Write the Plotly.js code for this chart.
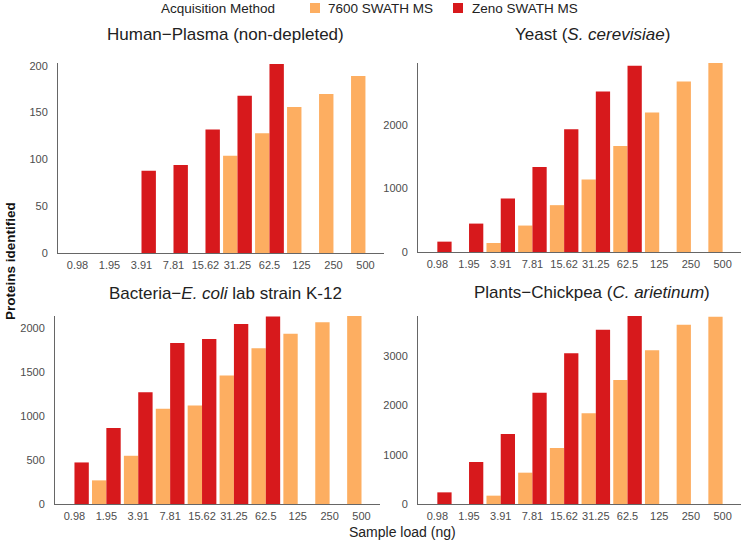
<!DOCTYPE html>
<html>
<head>
<meta charset="utf-8">
<script src="https://cdn.plot.ly/plotly-3.0.1.min.js"></script>
<style>
  html, body { margin: 0; padding: 0; background: #fff; }
  #chart { width: 742px; height: 540px; }
</style>
</head>
<body>
<div id="chart"></div>
<script>
"use strict";

// Sample loads (ng), shared by every panel
var sampleLoad = ["0.98", "1.95", "3.91", "7.81", "15.62", "31.25", "62.5", "125", "250", "500"]

// Proteins identified
var plasma7600 = [null, null, null, null, null, 104, 128, 156, 170, 189]
var plasmaZeno = [null, null, 88, 94, 132, 168, 202, null, null, null]

var yeast7600 = [null, null, 142, 416, 737, 1142, 1668, 2195, 2684, 2974]
var yeastZeno = [163, 447, 842, 1337, 1932, 2526, 2932, null, null, null]

var ecoli7600 = [null, 269, 549, 1083, 1121, 1462, 1773, 1939, 2068, 2140]
var ecoliZeno = [473, 864, 1273, 1833, 1879, 2049, 2133, null, null, null]

var chickpea7600 = [null, null, 169, 635, 1135, 1838, 2514, 3115, 3635, 3797]
var chickpeaZeno = [236, 851, 1419, 2257, 3054, 3534, 3811, null, null, null]

var methodNames = ["7600 SWATH MS", "Zeno SWATH MS"]
var panelTitles = [
  "Human\u2212Plasma (non-depleted)",
  "Yeast (<i>S. cerevisiae</i>)",
  "Bacteria\u2212<i>E. coli</i> lab strain K-12",
  "Plants\u2212Chickpea (<i>C. arietinum</i>)"
]

var orange = "#fdae61"
var red = "#d7191c"
var font = "Liberation Sans, Arial, sans-serif"
var W = 742, H = 540

// px helpers (margins are zero, so paper == pixels)
function px(x){ return x / W }
function py(y){ return 1 - y / H }

var panels = [
  { s7600: plasma7600, zeno: plasmaZeno, top: 63, bottom: 253, left: 58, right: 384, ymax: 203, dtick: 50, tx: 226, ty: 34 },
  { s7600: yeast7600, zeno: yeastZeno, top: 63, bottom: 252, left: 418, right: 741, ymax: 2974, dtick: 1000, tx: 592, ty: 34 },
  { s7600: ecoli7600, zeno: ecoliZeno, top: 316, bottom: 504, left: 55, right: 380, ymax: 2140, dtick: 500, tx: 226, ty: 293 },
  { s7600: chickpea7600, zeno: chickpeaZeno, top: 316, bottom: 504, left: 418, right: 741, ymax: 3811, dtick: 1000, tx: 592, ty: 292 }
]

var traces = []
var layout = {
  width: W, height: H,
  margin: { l: 0, r: 0, t: 0, b: 0 },
  paper_bgcolor: "#fff",
  plot_bgcolor: "rgba(0,0,0,0)",
  font: { family: font, color: "#222" },
  barmode: "group",
  bargap: 0.1,
  bargroupgap: 0,
  showlegend: false,
  annotations: [],
  shapes: []
}

panels.forEach(function(p, i){
  var n = i + 1
  var xa = n == 1 ? "x" : "x" + n
  var ya = n == 1 ? "y" : "y" + n
  traces.push({
    type: "bar", x: sampleLoad, y: p.s7600, name: methodNames[0],
    marker: { color: orange, line: { width: 0 } },
    xaxis: xa, yaxis: ya
  })
  traces.push({
    type: "bar", x: sampleLoad, y: p.zeno, name: methodNames[1],
    marker: { color: red, line: { width: 0 } },
    xaxis: xa, yaxis: ya
  })

  var xKey = n == 1 ? "xaxis" : "xaxis" + n
  var yKey = n == 1 ? "yaxis" : "yaxis" + n
  layout[xKey] = {
    domain: [px(p.left), px(p.right)],
    anchor: ya,
    type: "category",
    range: [-0.61, 9.58],
    showline: true, linecolor: "#666", linewidth: 1,
    showgrid: false, zeroline: false,
    ticks: "", ticklabelstandoff: 2,
    tickfont: { size: 11, color: "#4d4d4d", family: font },
    fixedrange: true
  }
  layout[yKey] = {
    domain: [py(p.bottom), py(p.top)],
    anchor: xa,
    range: [0, p.ymax],
    dtick: p.dtick,
    showline: true, linecolor: "#666", linewidth: 1,
    showgrid: false, zeroline: false,
    ticks: "", ticklabelstandoff: 7,
    tickfont: { size: 11, color: "#4d4d4d", family: font },
    fixedrange: true
  }
  layout.annotations.push({
    text: panelTitles[i],
    xref: "paper", yref: "paper",
    x: px(p.tx), y: py(p.ty),
    xanchor: "center", yanchor: "middle",
    showarrow: false,
    font: { size: 17, color: "#222", family: font }
  })
})

// legend across the top, drawn by hand so it can sit at the very edge
var legendText = { size: 13.5, color: "#222", family: font }
function legendLabel(text, x){
  layout.annotations.push({
    text: text, xref: "paper", yref: "paper",
    x: px(x), y: py(8), xanchor: "left", yanchor: "middle",
    showarrow: false, font: legendText, borderpad: 0
  })
}
function legendKey(color, x){
  layout.shapes.push({
    type: "rect", xref: "paper", yref: "paper",
    x0: px(x), x1: px(x + 10), y0: py(13), y1: py(3),
    fillcolor: color, line: { width: 0 }
  })
}
legendLabel("Acquisition Method", 160)
legendKey(orange, 310)
legendLabel(methodNames[0], 327)
legendKey(red, 453)
legendLabel(methodNames[1], 471)

// shared axis titles
layout.annotations.push({
  text: "<b>Proteins identified</b>",
  xref: "paper", yref: "paper",
  x: px(10), y: py(261),
  xanchor: "center", yanchor: "middle",
  textangle: -90, showarrow: false,
  font: { size: 13.5, color: "#111", family: font }
})
layout.annotations.push({
  text: "Sample load (ng)",
  xref: "paper", yref: "paper",
  x: px(402), y: py(532),
  xanchor: "center", yanchor: "middle",
  showarrow: false,
  font: { size: 14, color: "#222", family: font }
})

Plotly.newPlot("chart", traces, layout, { displayModeBar: false, staticPlot: true })
</script>
</body>
</html>
